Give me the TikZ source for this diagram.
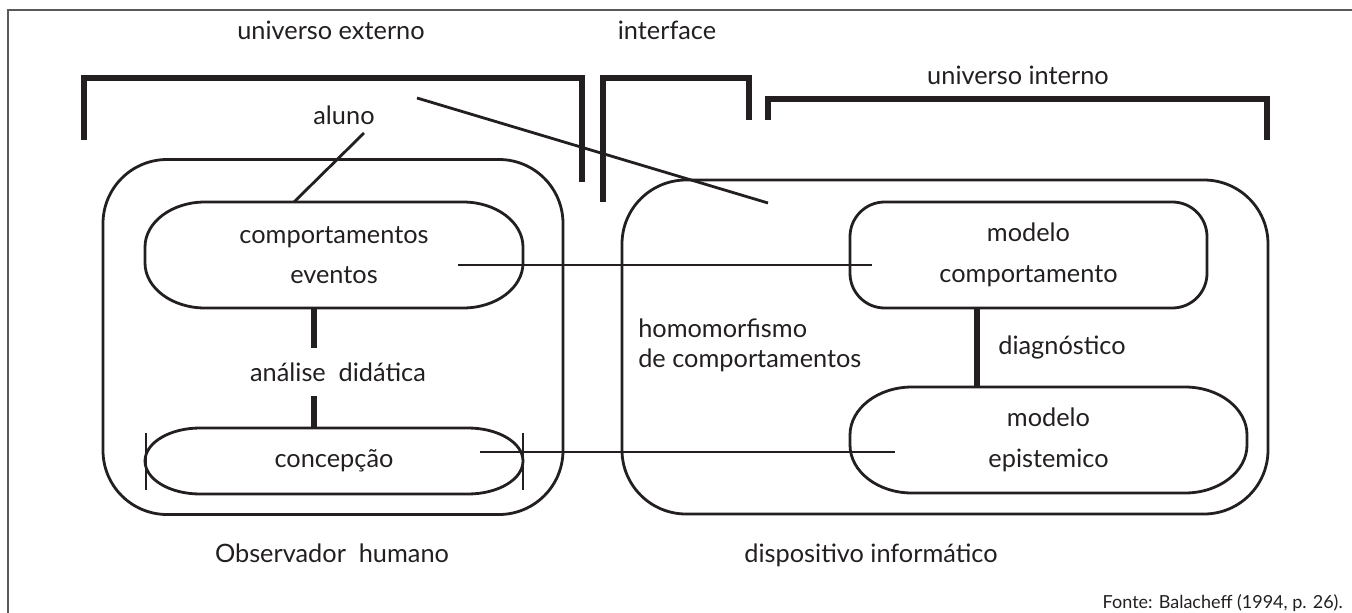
\documentclass[tikz,border=0pt]{standalone}
\usepackage{fontspec}
\setmainfont{Lato}
\usepackage{tikz}
\usetikzlibrary{positioning}

% one reference pixel
\newcommand\pxu{0.75pt}
\newcommand\boxfont{\fontsize{19}{30.5}\selectfont}
\definecolor{ink}{HTML}{231F20}
\tikzset{
  thinline/.style={line width=2.1pt},
  heavy/.style={line width=4.6pt},
  bracket/.style={line width=4.6pt, line cap=butt, line join=miter},
  box/.style={draw, thinline, inner sep=0pt, align=center, font=\boxfont},
  ovalbox/.style={inner sep=0pt, outer sep=0pt, align=center, font=\boxfont},
  lbl/.style={inner sep=0pt, font=\boxfont},
}
% oval outline round a node: node, x radius, y radius (pixels)
\newcommand\ovalline[3]{%
  \draw[thinline] ([xshift=#2*\pxu]#1.north west) -- ([xshift=-#2*\pxu]#1.north east)
    arc[start angle=90, end angle=0, x radius=#2*\pxu, y radius=#3*\pxu]
    -- ([yshift=#3*\pxu]#1.south east)
    arc[start angle=0, end angle=-90, x radius=#2*\pxu, y radius=#3*\pxu]
    -- ([xshift=#2*\pxu]#1.south west)
    arc[start angle=270, end angle=180, x radius=#2*\pxu, y radius=#3*\pxu]
    -- ([yshift=-#3*\pxu]#1.north west)
    arc[start angle=180, end angle=90, x radius=#2*\pxu, y radius=#3*\pxu] -- cycle;}

\begin{document}
\begin{tikzpicture}[x=\pxu, y=-\pxu, color=ink]
    \useasboundingbox (0,0) rectangle (1352,613);
    % Frame
    \draw[line width=1.5pt, gray!70!black] (8,613) -- (8,10) -- (1352,10);

    % Universes
    \node[lbl] (ext) at (331,30) {universo externo};
    \node[lbl] (intf) at (667,30) {interface};
    \node[lbl] (int) at (1018,75) {universo interno};
    \draw[bracket] (84,140) -- (84,78) -- (582,78) -- (582,182);
    \draw[bracket] (603,202) -- (603,78) -- (749,78) -- (749,120);
    \draw[bracket] (768,120) -- (768,99) -- (1267,99) -- (1267,140);

    % Outer boxes
    \node[box, rounded corners=48pt, minimum width={460*\pxu}, minimum height={355*\pxu}] (obs) at (333,337) {};
    \node[box, rounded corners=48pt, minimum width={646*\pxu}, minimum height={334*\pxu}] (disp) at (945,347) {};

    % Human observer
    \node[ovalbox, minimum width={378*\pxu}, minimum height={106*\pxu}] (comp) at (334,255) {comportamentos\\eventos};
    \ovalline{comp}{60}{45}
    \node[lbl, minimum height={48*\pxu}] (anal) at (338,372) {análise\hspace{0.25em} didática};
    \node[ovalbox, minimum width={378*\pxu}, minimum height={66*\pxu}] (conc) at (334,461) {concepção};
    \ovalline{conc}{55}{33}
    \draw[thinline] (146,433) -- (146,490); % ticks
    \draw[thinline] (523,433) -- (523,490);
    \draw[heavy] (314,0 |- comp.south) -- (314,0 |- anal.north);
    \draw[heavy] (314,0 |- anal.south) -- (314,0 |- conc.north);

    \node[lbl] (aluno) at (344,115) {aluno};
    \coordinate (alunoEnd) at (364,133);
    \draw[thinline] (alunoEnd) -- (294,0 |- comp.north);

    % Computer device
    \node[box, rounded corners=26pt, minimum width={357*\pxu}, minimum height={106*\pxu}] (mcomp) at (1028.5,255) {modelo\\comportamento};
    \node[lbl] (diag) at (1062,347) {diagnóstico};
    \node[ovalbox, minimum width={397*\pxu}, minimum height={106*\pxu}] (mepi) at (1048.5,440) {modelo\\epistemico};
    \ovalline{mepi}{62}{48}
    \draw[heavy] (977,0 |- mcomp.south) -- (977,0 |- mepi.north);
    \node[lbl, align=left, anchor=west, font=\fontsize{19}{22.5}\selectfont] (homo) at (638,345) {homomorfismo\\de comportamentos};

    % Links
    \coordinate (diagA) at (417,98);
    \coordinate (diagB) at (768,203);
    \draw[thinline] (diagA) -- (diagB);
    \coordinate (evR) at (458,265);
    \coordinate (mcL) at (872,265);
    \draw[thinline] (evR) -- (mcL);
    \coordinate (concR) at (480,452);
    \coordinate (meL) at (895,452);
    \draw[thinline] (concR) -- (meL);

    % Captions
    \node[lbl] (obsl) at (332,553) {Observador\hspace{0.25em} humano};
    \node[lbl] (displ) at (871,555) {dispositivo informático};
    \node[lbl, anchor=east, font=\fontsize{13.5}{15}\selectfont] (fonte) at (1343,603) {Fonte: Balacheff (1994, p. 26).};
\end{tikzpicture}
\end{document}
